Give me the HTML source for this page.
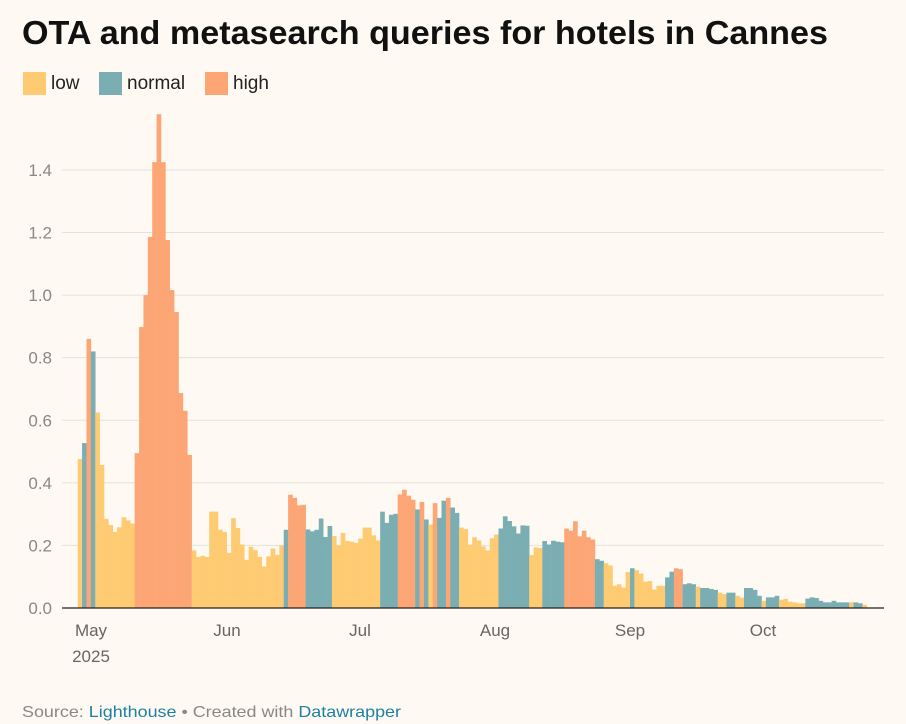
<!DOCTYPE html>
<html><head><meta charset="utf-8"><style>
body{margin:0;background:#fefaf3;width:906px;height:724px;overflow:hidden;font-family:"Liberation Sans",Arial,sans-serif}
</style></head><body>
<svg id="s" width="906" height="724" xmlns="http://www.w3.org/2000/svg" style="position:absolute;left:0;top:0">
<text x="22" y="44" font-size="33" font-weight="bold" fill="#111" font-family="Liberation Sans, sans-serif" textLength="806" lengthAdjust="spacingAndGlyphs">OTA and metasearch queries for hotels in Cannes</text>
<rect x="23" y="72" width="23" height="23" fill="#fecb72"/><text x="51" y="89" font-size="19" fill="#222">low</text>
<rect x="99" y="72" width="23" height="23" fill="#7aaeb3"/><text x="127" y="89" font-size="19" fill="#222">normal</text>
<rect x="205" y="72" width="23" height="23" fill="#fca676"/><text x="233" y="89" font-size="19" fill="#222">high</text>
<g id="grid"></g>
<g id="bars"></g>
<line x1="62" y1="608" x2="884" y2="608" stroke="#222" stroke-width="1.3"/>
<g font-size="17" fill="#666" text-anchor="middle">
<text x="91" y="636">May</text><text x="91" y="662">2025</text>
<text x="227" y="636">Jun</text><text x="360" y="636">Jul</text><text x="495" y="636">Aug</text><text x="630" y="636">Sep</text><text x="763" y="636">Oct</text>
</g>
<text x="22" y="717" font-size="16" fill="#888" textLength="379" lengthAdjust="spacingAndGlyphs">Source: <tspan fill="#1d81a2">Lighthouse</tspan> • Created with <tspan fill="#1d81a2">Datawrapper</tspan></text>
</svg>
<script>
var Y='#fecb72',T='#7aaeb3',O='#fca676';
var d=[[Y,.476],[T,.527],[O,.86],[T,.82],[Y,.625],[Y,.457],[Y,.285],[Y,.265],[Y,.243],[Y,.258],[Y,.29],[Y,.28],[Y,.27],
[O,.495],[O,.898],[O,1.0],[O,1.186],[O,1.425],[O,1.578],[O,1.425],[O,1.176],[O,1.016],[O,.946],[O,.687],[O,.63],[O,.489],
[Y,.184],[Y,.163],[Y,.167],[Y,.163],[Y,.308],[Y,.308],[Y,.25],[Y,.243],[Y,.176],[Y,.287],[Y,.256],[Y,.203],[Y,.154],[Y,.196],[Y,.185],[Y,.163],[Y,.133],[Y,.165],[Y,.19],[Y,.17],[Y,.2],
[T,.25],[O,.362],[O,.352],[O,.328],[O,.33],[T,.251],[T,.245],[T,.25],[T,.286],[T,.227],[T,.262],
[Y,.23],[Y,.2],[Y,.24],[Y,.214],[Y,.212],[Y,.208],[Y,.222],[Y,.257],[Y,.257],[Y,.232],[Y,.216],
[T,.308],[T,.272],[T,.298],[T,.301],[O,.363],[O,.378],[O,.359],[O,.346],[T,.315],[O,.339],[T,.283],[Y,.267],[O,.335],[T,.288],[T,.343],[O,.352],[T,.321],[T,.304],
[Y,.257],[Y,.252],[Y,.202],[Y,.226],[Y,.216],[Y,.197],[Y,.184],[Y,.223],[Y,.235],
[T,.254],[T,.293],[T,.278],[T,.261],[T,.238],[T,.264],[T,.263],[Y,.169],[Y,.194],[Y,.192],
[T,.214],[T,.203],[T,.215],[T,.212],[T,.21],[O,.254],[O,.247],[O,.277],[O,.229],[O,.247],[O,.226],[O,.219],
[T,.156],[T,.151],[Y,.143],[Y,.136],[Y,.071],[Y,.076],[Y,.065],[Y,.115],[T,.127],[Y,.121],[Y,.110],[Y,.084],[Y,.086],[Y,.059],[Y,.071],[Y,.071],
[T,.098],[T,.116],[O,.127],[O,.124],[T,.076],[T,.079],[T,.076],[Y,.068],[T,.064],[T,.064],[T,.061],[T,.058],[Y,.049],[Y,.044],[T,.049],[T,.049],[Y,.039],[Y,.033],
[T,.064],[T,.064],[T,.058],[T,.039],[Y,.023],[T,.034],[T,.034],[T,.039],[Y,.026],[Y,.029],[Y,.02],[Y,.018],[Y,.015],[Y,.015],
[T,.03],[T,.034],[T,.032],[T,.023],[T,.018],[T,.018],[T,.023],[T,.018],[T,.018],[T,.018],[Y,.018],[T,.018],[T,.015],[Y,.01]];
var ns='http://www.w3.org/2000/svg';
var g=document.getElementById('grid'),b=document.getElementById('bars');
for(var k=1;k<=7;k++){var y=608-62.58*k;var l=document.createElementNS(ns,'line');l.setAttribute('x1',62);l.setAttribute('x2',884);l.setAttribute('y1',y);l.setAttribute('y2',y);l.setAttribute('stroke','#e4e1db');l.setAttribute('stroke-width','1');g.appendChild(l);
var t=document.createElementNS(ns,'text');t.setAttribute('x',52);t.setAttribute('y',y+6);t.setAttribute('text-anchor','end');t.setAttribute('font-size','17');t.setAttribute('fill','#888');t.textContent=(k*0.2).toFixed(1);g.appendChild(t);}
var t0=document.createElementNS(ns,'text');t0.setAttribute('x',52);t0.setAttribute('y',614);t0.setAttribute('text-anchor','end');t0.setAttribute('font-size','17');t0.setAttribute('fill','#888');t0.textContent='0.0';g.appendChild(t0);
var x0=77.7,w=(866.7-77.7)/d.length;
d.forEach(function(v,i){var r=document.createElementNS(ns,'rect');var h=v[1]*312.9;r.setAttribute('x',(x0+i*w).toFixed(2));r.setAttribute('width',(w+0.3).toFixed(2));r.setAttribute('y',(608-h).toFixed(2));r.setAttribute('height',h.toFixed(2));r.setAttribute('fill',v[0]);b.appendChild(r);});
</script>
</body></html>
